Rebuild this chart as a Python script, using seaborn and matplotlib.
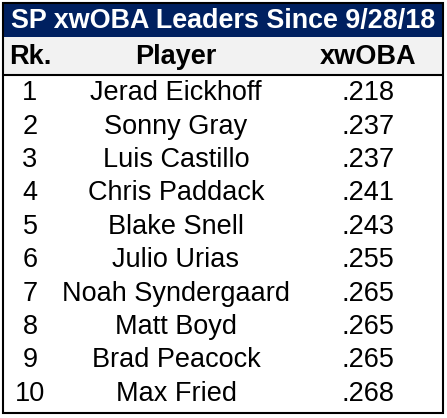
import matplotlib
matplotlib.use("Agg")
import matplotlib.pyplot as plt
import seaborn as sns
from matplotlib.patches import Rectangle

# datos de la tabla
title = "SP xwOBA Leaders Since 9/28/18"
headers = ["Rk.", "Player", "xwOBA"]
ranks = [1, 2, 3, 4, 5, 6, 7, 8, 9, 10]
players = ["Jerad Eickhoff", "Sonny Gray", "Luis Castillo", "Chris Paddack",
           "Blake Snell", "Julio Urias", "Noah Syndergaard", "Matt Boyd",
           "Brad Peacock", "Max Fried"]
xwoba = [".218", ".237", ".237", ".241", ".243", ".255", ".265", ".265", ".265", ".268"]

sns.set_theme(style="white")
plt.rcParams["font.family"] = ["Liberation Sans", "DejaVu Sans"]

W, H = 447, 418
fig = plt.figure(figsize=(W / 100, H / 100), dpi=100)
ax = fig.add_axes([0, 0, 1, 1])
ax.set_xlim(0, W)
ax.set_ylim(H, 0)
ax.axis("off")

left, right, top, bottom = 3, 443, 3, 413
title_h = 34
head_h = 38
body_top = top + title_h + head_h
row_h = 33.4
col_x = [30, 176, 368]
fs = 19.5

# barra de titulo
ax.add_patch(Rectangle((left, top), right - left, title_h, facecolor="#002060", edgecolor="none"))
ax.text((left + right) / 2, top + title_h / 2 + 1, title, color="white", fontsize=19.4,
        fontweight="bold", ha="center", va="center")

# encabezado
ax.add_patch(Rectangle((left, top + title_h), right - left, head_h, facecolor="#F2F2F2", edgecolor="none"))
for x, h in zip(col_x, headers):
    ax.text(x, top + title_h + head_h / 2 + 1, h, fontsize=fs, fontweight="bold",
            ha="center", va="center", color="black")
ax.plot([left, right], [body_top, body_top], color="black", lw=1.5)

# filas
for i, (r, p, v) in enumerate(zip(ranks, players, xwoba)):
    y = body_top + row_h * (i + 0.5) + 1.5
    ax.text(col_x[0], y, str(r), fontsize=fs, ha="center", va="center", color="black")
    ax.text(col_x[1], y, p, fontsize=fs, ha="center", va="center", color="black")
    ax.text(col_x[2], y, v, fontsize=fs, ha="center", va="center", color="black")

# borde exterior
ax.add_patch(Rectangle((left, top), right - left, bottom - top, facecolor="none",
                       edgecolor="black", lw=1.5))

fig.savefig("out.png", dpi=100)
